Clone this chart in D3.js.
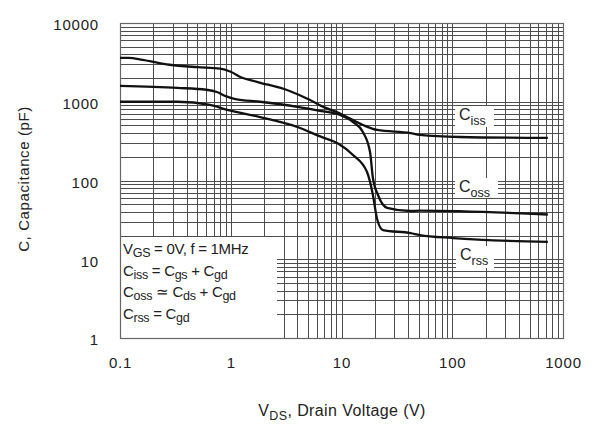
<!DOCTYPE html>
<html>
<head>
<meta charset="utf-8">
<script src="https://cdn.jsdelivr.net/npm/d3@7"></script>
<style>
  body { margin: 0; background: #fff; }
  svg { display: block; font-family: "Liberation Sans", Arial, sans-serif; }
  .grid line { stroke: #4d4d4d; stroke-width: 1; shape-rendering: crispEdges; }
  .axis text { fill: #222; font-size: 15px; letter-spacing: 0.8px; }
  .curve { fill: none; stroke: #111; stroke-width: 2.3; }
</style>
</head>
<body>
<div id="chart"></div>
<script>
// Capacitance curves, [V_DS (V), C (pF)]
const ciss = [
  [0.1, 3600], [0.12, 3600], [0.16, 3400], [0.28, 2950], [0.5, 2750],
  [0.8, 2640], [1.0, 2400], [1.25, 2030], [1.75, 1780], [3.4, 1370],
  [5.2, 1050], [6.6, 880], [9.7, 710], [15.6, 507], [21, 438], [42, 400],
  [51, 380], [117, 357], [730, 347]
];
const coss = [
  [0.1, 1590], [0.33, 1500], [0.6, 1420], [0.75, 1330], [0.9, 1180],
  [1.1, 1080], [1.84, 1000], [4, 860], [6.2, 770], [9.7, 680], [12.7, 553],
  [15.6, 413], [18.1, 230], [19.2, 108], [21.4, 65], [25.8, 45], [42, 41],
  [51, 41.5], [730, 37]
];
const crss = [
  [0.1, 1000], [0.33, 1000], [0.65, 910], [0.93, 790], [1.84, 640],
  [4, 478], [6.5, 360], [9.3, 295], [12.7, 211], [17, 128], [19.2, 66],
  [20.9, 33], [23.7, 23.5], [42, 21.5], [51, 20.3], [102, 18.6], [730, 16.6]
];
const xTickValues = [0.1, 1, 10, 100, 1000];
const yTickValues = [1, 10, 100, 1000, 10000];
const curveLabels = [
  { sub: 'iss', box: [455, 106, 39, 21] },
  { sub: 'oss', box: [455, 178, 43, 20] },
  { sub: 'rss', box: [456, 246, 38, 22] }
];
const legendLines = [
  [['V', ''], ['GS', 'sub'], [' = 0V, f = 1MHz', '']],
  [['C', ''], ['iss', 'sub'], [' = C', ''], ['gs', 'sub'], [' + C', ''], ['gd', 'sub']],
  [['C', ''], ['oss', 'sub'], [' \u2243 C', ''], ['ds', 'sub'], [' + C', ''], ['gd', 'sub']],
  [['C', ''], ['rss', 'sub'], [' = C', ''], ['gd', 'sub']]
];

const width = 598;
const height = 429;
const margin = { top: 23, right: 35, bottom: 91, left: 120 };

const svg = d3.select('#chart').append('svg')
    .attr('width', width)
    .attr('height', height);

const x = d3.scaleLog()
    .domain([0.1, 1000])
    .range([margin.left, width - margin.right]);
const y = d3.scaleLog()
    .domain([1, 10000])
    .range([height - margin.bottom, margin.top]);

// Log grid, all minor ticks
const grid = svg.append('g').attr('class', 'grid');
grid.selectAll('.vx')
    .data(x.ticks())
  .enter().append('line')
    .attr('class', 'vx')
    .attr('x1', d => Math.round(x(d)) + 0.5)
    .attr('x2', d => Math.round(x(d)) + 0.5)
    .attr('y1', y.range()[1])
    .attr('y2', y.range()[0]);
grid.selectAll('.hy')
    .data(y.ticks())
  .enter().append('line')
    .attr('class', 'hy')
    .attr('x1', x.range()[0])
    .attr('x2', x.range()[1])
    .attr('y1', d => Math.round(y(d)) + 0.5)
    .attr('y2', d => Math.round(y(d)) + 0.5);

// White area behind the conditions text
svg.append('rect')
    .attr('x', x.range()[0] + 1)
    .attr('y', 237)
    .attr('width', 276 - x.range()[0])
    .attr('height', y.range()[0] - 237)
    .attr('fill', '#fff');

// Frame
svg.append('rect')
    .attr('x', x.range()[0] + 0.5)
    .attr('y', y.range()[1] + 0.5)
    .attr('width', x.range()[1] - x.range()[0])
    .attr('height', y.range()[0] - y.range()[1])
    .attr('fill', 'none')
    .attr('stroke', '#666')
    .attr('stroke-width', 1.2);

// Curves
const line = d3.line()
    .x(d => x(d[0]))
    .y(d => y(d[1]))
    .curve(d3.curveMonotoneX);
svg.selectAll('.curve')
    .data([ciss, coss, crss])
  .enter().append('path')
    .attr('class', 'curve')
    .attr('d', line);

// Curve labels with white boxes
const lab = svg.selectAll('.clabel')
    .data(curveLabels)
  .enter().append('g')
    .attr('class', 'clabel');
lab.append('rect')
    .attr('x', d => d.box[0])
    .attr('y', d => d.box[1])
    .attr('width', d => d.box[2])
    .attr('height', d => d.box[3])
    .attr('fill', '#fff');
const lt = lab.append('text')
    .attr('x', d => d.box[0] + 4)
    .attr('y', d => d.box[1] + 14)
    .attr('fill', '#222')
    .style('font-size', '16px');
lt.append('tspan').text('C');
lt.append('tspan')
    .attr('dy', 5)
    .style('font-size', '12.5px')
    .text(d => d.sub);

// Conditions text
const legend = svg.append('g')
    .attr('fill', '#222')
    .style('font-size', '15px')
    .style('letter-spacing', '-0.3px');
legendLines.forEach((parts, i) => {
  const t = legend.append('text')
      .attr('x', 123)
      .attr('y', 254 + i * 21.5);
  let prevSub = false;
  parts.forEach(([s, kind]) => {
    const isSub = kind === 'sub';
    t.append('tspan')
        .attr('dy', isSub ? 3 : (prevSub ? -3 : 0))
        .style('font-size', isSub ? '12.5px' : null)
        .text(s);
    prevSub = isSub;
  });
});

// Axes (labels only)
const fmt = d => (d < 1 ? '0.1' : String(d));
svg.append('g')
    .attr('class', 'axis')
    .attr('transform', `translate(0,${y.range()[0] + 16})`)
    .call(d3.axisBottom(x).tickValues(xTickValues).tickFormat(fmt).tickSize(0))
    .call(g => g.select('.domain').remove())
    .call(g => g.selectAll('text').attr('fill', '#222'));
svg.append('g')
    .attr('class', 'axis')
    .attr('transform', `translate(${x.range()[0] - 18},0)`)
    .call(d3.axisLeft(y).tickValues(yTickValues).tickFormat(d3.format('d')).tickSize(0))
    .call(g => g.select('.domain').remove())
    .call(g => g.selectAll('text').attr('fill', '#222').attr('dy', '0.45em'));

// Axis titles
svg.append('text')
    .attr('transform', 'translate(29,179) rotate(-90)')
    .attr('text-anchor', 'middle')
    .attr('fill', '#222')
    .style('font-size', '15px')
    .style('letter-spacing', '0.6px')
    .text('C, Capacitance (pF)');

const xt = svg.append('text')
    .attr('x', 342)
    .attr('y', 416)
    .attr('text-anchor', 'middle')
    .attr('fill', '#222')
    .style('font-size', '16px')
    .style('letter-spacing', '0.4px');
xt.append('tspan').text('V');
xt.append('tspan').attr('dy', 4).style('font-size', '12.5px').text('DS');
xt.append('tspan').attr('dy', -4).text(', Drain Voltage (V)');
</script>
</body>
</html>
